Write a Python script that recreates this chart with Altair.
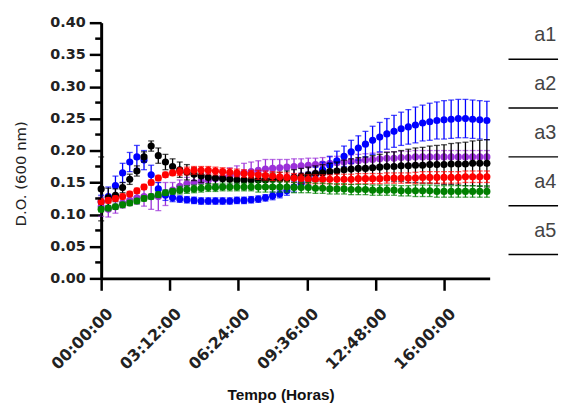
import altair as alt
import pandas as pd

# time points (hours), one reading every 20 minutes
hours = [round(i / 3, 4) for i in range(55)]

series_names = ["a1", "a2", "a3", "a4", "a5"]
series_colors = ["#000000", "#ff0000", "#0000ff", "#9b30d9", "#008000"]
draw_order = ["a4", "a3", "a1", "a2", "a5"]

a1_mean = [0.140, 0.126, 0.130, 0.142, 0.155, 0.168, 0.190, 0.207, 0.192, 0.182, 0.175,
           0.170, 0.166, 0.163, 0.160, 0.158, 0.157, 0.156, 0.155, 0.154, 0.154, 0.154,
           0.154, 0.154, 0.155, 0.155, 0.156, 0.158, 0.160, 0.162, 0.164, 0.165, 0.167,
           0.168, 0.170, 0.171, 0.172, 0.172, 0.173, 0.174, 0.175, 0.175, 0.176, 0.176,
           0.177, 0.177, 0.178, 0.178, 0.178, 0.179, 0.179, 0.179, 0.180, 0.180, 0.180]
a1_err = [0.050, 0.015, 0.010, 0.008, 0.008, 0.008, 0.008, 0.008, 0.012, 0.012, 0.012,
          0.012, 0.012, 0.010, 0.010, 0.010, 0.010, 0.010, 0.010, 0.010, 0.010, 0.010,
          0.010, 0.010, 0.010, 0.011, 0.012, 0.012, 0.012, 0.012, 0.012, 0.013, 0.013,
          0.014, 0.015, 0.016, 0.017, 0.018, 0.019, 0.020, 0.022, 0.023, 0.024, 0.026,
          0.027, 0.028, 0.029, 0.030, 0.031, 0.032, 0.033, 0.034, 0.035, 0.036, 0.037]

a2_mean = [0.120, 0.122, 0.125, 0.128, 0.132, 0.137, 0.143, 0.150, 0.157, 0.162, 0.165,
           0.167, 0.168, 0.169, 0.169, 0.169, 0.168, 0.167, 0.166, 0.165, 0.164, 0.163,
           0.162, 0.161, 0.160, 0.159, 0.158, 0.157, 0.156, 0.155, 0.155, 0.155, 0.155,
           0.155, 0.155, 0.155, 0.156, 0.156, 0.156, 0.156, 0.157, 0.157, 0.157, 0.157,
           0.157, 0.158, 0.158, 0.158, 0.158, 0.158, 0.158, 0.159, 0.159, 0.159, 0.159]
a2_err = [0.004] * 11 + [0.006] * 11 + [0.007] * 11 + [0.008] * 11 + [0.009] * 11

a3_mean = [0.120, 0.128, 0.145, 0.165, 0.182, 0.190, 0.185, 0.162, 0.140, 0.130, 0.126,
           0.124, 0.123, 0.122, 0.121, 0.121, 0.121, 0.121, 0.121, 0.122, 0.122, 0.123,
           0.124, 0.126, 0.129, 0.132, 0.137, 0.143, 0.149, 0.156, 0.163, 0.170, 0.177,
           0.184, 0.191, 0.198, 0.204, 0.210, 0.216, 0.221, 0.226, 0.230, 0.234, 0.237,
           0.240, 0.243, 0.245, 0.247, 0.248, 0.249, 0.250, 0.250, 0.249, 0.248, 0.247]
a3_err = [0.010, 0.015, 0.015, 0.015, 0.015, 0.018, 0.015, 0.015, 0.010, 0.008, 0.006,
          0.005, 0.005, 0.005, 0.005, 0.005, 0.005, 0.005, 0.005, 0.005, 0.005, 0.005,
          0.005, 0.005, 0.006, 0.006, 0.007, 0.008, 0.009, 0.010, 0.011, 0.012, 0.014,
          0.015, 0.016, 0.018, 0.019, 0.020, 0.022, 0.023, 0.024, 0.025, 0.026, 0.027,
          0.028, 0.028, 0.029, 0.029, 0.030, 0.030, 0.030, 0.030, 0.030, 0.030, 0.030]

a4_mean = [0.112, 0.108, 0.112, 0.118, 0.122, 0.126, 0.128, 0.128, 0.128, 0.132, 0.138,
           0.144, 0.148, 0.150, 0.152, 0.154, 0.156, 0.158, 0.160, 0.162, 0.165, 0.167,
           0.169, 0.171, 0.172, 0.173, 0.174, 0.175, 0.176, 0.177, 0.178, 0.179, 0.180,
           0.181, 0.182, 0.183, 0.184, 0.185, 0.186, 0.187, 0.188, 0.188, 0.189, 0.189,
           0.190, 0.190, 0.190, 0.190, 0.190, 0.190, 0.190, 0.190, 0.190, 0.190, 0.190]
a4_err = [0.015, 0.012, 0.010, 0.008, 0.008, 0.010, 0.015, 0.020, 0.022, 0.018, 0.012,
          0.010, 0.010, 0.010, 0.010, 0.010, 0.011, 0.012, 0.013, 0.014, 0.015, 0.015,
          0.015, 0.015, 0.014, 0.013, 0.012, 0.012, 0.011, 0.011, 0.010, 0.010, 0.010,
          0.010, 0.010, 0.010, 0.010, 0.010, 0.010, 0.010, 0.010, 0.010, 0.010, 0.010,
          0.010, 0.010, 0.010, 0.010, 0.010, 0.010, 0.010, 0.010, 0.010, 0.010, 0.010]

a5_mean = [0.108, 0.110, 0.112, 0.115, 0.118, 0.121, 0.125, 0.128, 0.131, 0.134, 0.136,
           0.138, 0.139, 0.140, 0.141, 0.142, 0.142, 0.143, 0.143, 0.143, 0.143, 0.143,
           0.143, 0.143, 0.143, 0.143, 0.143, 0.142, 0.142, 0.142, 0.141, 0.141, 0.140,
           0.140, 0.140, 0.139, 0.139, 0.139, 0.138, 0.138, 0.138, 0.138, 0.137, 0.137,
           0.137, 0.137, 0.137, 0.136, 0.136, 0.136, 0.136, 0.136, 0.136, 0.136, 0.136]
a5_err = [0.004] * 11 + [0.006] * 11 + [0.008] * 11 + [0.008] * 11 + [0.009] * 11

x_tick_values = [0, 3.2, 6.4, 9.6, 12.8, 16.0]
x_tick_labels = ["00:00:00", "03:12:00", "06:24:00", "09:36:00", "12:48:00", "16:00:00"]
y_tick_values = [0.0, 0.05, 0.10, 0.15, 0.20, 0.25, 0.30, 0.35, 0.40]
y_minor_ticks = [0.025, 0.075, 0.125, 0.175, 0.225, 0.275, 0.325, 0.375]

means = {"a1": a1_mean, "a2": a2_mean, "a3": a3_mean, "a4": a4_mean, "a5": a5_mean}
errs = {"a1": a1_err, "a2": a2_err, "a3": a3_err, "a4": a4_err, "a5": a5_err}
colors = dict(zip(series_names, series_colors))

rows = []
for name in series_names:
    assert len(means[name]) == len(hours) and len(errs[name]) == len(hours), name
    for h, m, e in zip(hours, means[name], errs[name]):
        rows.append({"hour": h, "serie": name, "mean": m, "lo": m - e, "hi": m + e})
df = pd.DataFrame(rows)

label_expr = " : ".join(
    f"abs(datum.value - {v}) < 0.01 ? '{t}'" for v, t in zip(x_tick_values, x_tick_labels)
) + " : ''"

TICK_FONT = "DejaVu Sans"
x_axis = alt.Axis(
    values=x_tick_values, labelExpr=label_expr, labelAngle=-45, labelAlign="right",
    labelBaseline="top", labelPadding=15, labelOffset=3, labelFont=TICK_FONT,
    labelFontWeight="bold", labelFontSize=16, labelColor="#222222", tickSize=12,
    tickWidth=2.5, tickColor="black", domainColor="black", domainWidth=3, grid=False,
    title="Tempo (Horas)", titleFont="Liberation Sans", titleFontWeight="bold",
    titleFontSize=15.5, titleColor="#111111", titlePadding=16, titleX=181,
)
y_axis = alt.Axis(
    values=y_tick_values, format=".2f", labelFont=TICK_FONT, labelFontWeight="bold",
    labelFontSize=14.5, labelColor="#222222", labelPadding=4, tickSize=12, tickWidth=2.5,
    tickColor="black", domainColor="black", domainWidth=3, grid=False,
    title="D.O. (600 nm)", titleFont="DejaVu Sans", titleFontWeight="normal",
    titleFontSize=15, titleColor="#222222", titlePadding=22, titleY=152,
)
x_scale = alt.Scale(domain=[0, 18.13], nice=False, zero=False)
y_scale = alt.Scale(domain=[0, 0.4], nice=False, zero=False)

layers = []
for name in draw_order:
    c = colors[name]
    base = alt.Chart(df[df["serie"] == name])
    x_enc = alt.X("hour:Q", scale=x_scale, axis=x_axis)
    layers.append(base.mark_rule(color=c, strokeWidth=1.3).encode(
        x=x_enc, y=alt.Y("lo:Q", scale=y_scale, axis=y_axis), y2="hi:Q"))
    layers.append(base.mark_tick(color=c, orient="horizontal", size=6, thickness=1.3).encode(
        x=x_enc, y=alt.Y("hi:Q", scale=y_scale, axis=y_axis)))
    layers.append(base.mark_tick(color=c, orient="horizontal", size=6, thickness=1.3).encode(
        x=x_enc, y=alt.Y("lo:Q", scale=y_scale, axis=y_axis)))
    layers.append(base.mark_circle(color=c, size=52, opacity=1).encode(
        x=x_enc, y=alt.Y("mean:Q", scale=y_scale, axis=y_axis)))

minor_df = pd.DataFrame({"v": y_minor_ticks})
minor = alt.Chart(minor_df).mark_rule(color="black", strokeWidth=2.5).encode(
    y=alt.Y("v:Q", scale=y_scale, axis=y_axis), x=alt.value(-6), x2=alt.value(0))

main = alt.layer(*layers, minor).properties(width=392, height=258)

legend_df = pd.DataFrame({"label": series_names, "idx": list(range(len(series_names)))})
leg_y = alt.Y("idx:Q", scale=alt.Scale(domain=[-0.75, 4.49], reverse=True, nice=False, zero=False), axis=None)
leg_rules = alt.Chart(legend_df).mark_rule(color="black", strokeWidth=1.5).encode(
    y=leg_y, x=alt.value(0), x2=alt.value(50))
leg_text = alt.Chart(legend_df).mark_text(
    font="Liberation Sans", fontSize=20, color="#444444", dy=-24, align="center", baseline="middle"
).encode(y=leg_y, x=alt.value(37), text="label:N")
legend_panel = alt.layer(leg_rules, leg_text).properties(width=50, height=258)

chart = alt.hconcat(main, legend_panel, spacing=19, bounds="flush").configure_view(
    strokeWidth=0
).properties(background="white")

chart.save("out.html", embed_options={"renderer": "svg", "actions": False})
